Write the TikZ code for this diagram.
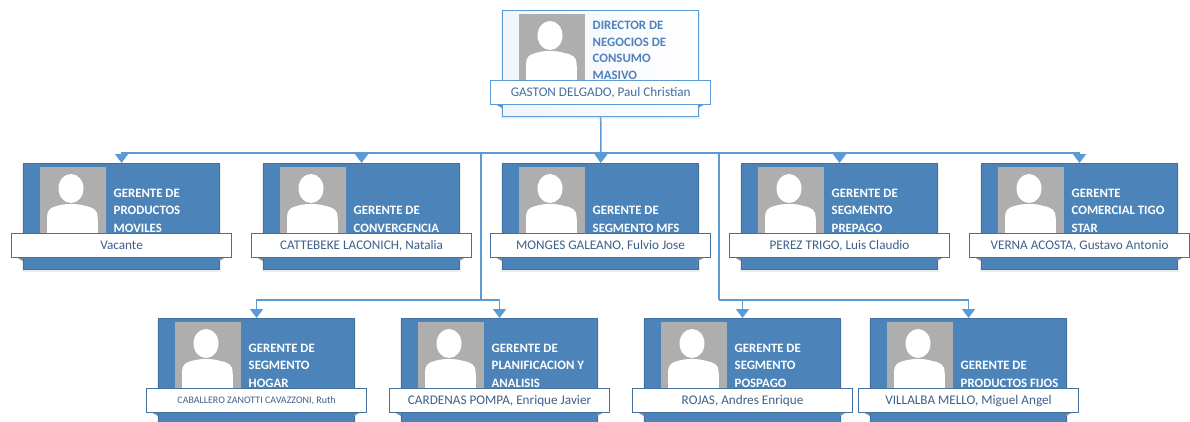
\documentclass[tikz,border=0pt]{standalone}
\usepackage{fontspec}
\setmainfont{Carlito}
\usetikzlibrary{arrows.meta}
\definecolor{linkc}{HTML}{5B9BD5}
\definecolor{cardfill}{HTML}{4C84BA}
\definecolor{cardedge}{HTML}{41719C}
\definecolor{photoc}{HTML}{AEAEAE}
\definecolor{persontxt}{HTML}{3E5F8A}
\definecolor{toptxt}{HTML}{4F81BD}
\definecolor{foldc}{HTML}{7C8A98}
\definecolor{paleblue}{HTML}{F0F5FC}
\tikzset{
  x=1pt,y=-1pt,
  cardbox/.style={rectangle,draw=cardedge,line width=1.1pt,fill=cardfill,minimum width=196pt,minimum height=106pt,inner sep=0pt,anchor=north west},
  topbox/.style={cardbox,draw=linkc,line width=1.4pt,left color=paleblue,right color=white},
  ribbon/.style={rectangle,draw=cardedge,line width=1.1pt,fill=white,minimum width=220pt,minimum height=24pt,inner sep=0pt,anchor=north west,text=persontxt,font=\fontsize{13.2}{14}\selectfont},
  topribbon/.style={ribbon,draw=linkc,line width=1.4pt,text=toptxt!85!black},
  smallname/.style={font=\fontsize{10}{11}\selectfont},
  titletxt/.style={anchor=south west,inner sep=0pt,align=left,text=white,font=\fontsize{12.8}{17.5}\selectfont\bfseries},
  toptitle/.style={titletxt,text=toptxt,font=\fontsize{12.8}{16.5}\selectfont\bfseries},
  link/.style={draw=linkc,line width=1.5pt},
  linkarrow/.style={link,-{Triangle[length=9pt,width=13pt]}},
  softshadow/.style={fill=black,opacity=0.07}
}
% #1 name, #2 x, #3 y, #4 box style, #5 ribbon style, #6 title style, #7 title, #8 person
\newcommand\orgcard[8]{
  \begin{scope}[shift={(#2,#3)}]
    \fill[softshadow] (-1,2) rectangle (198,109);
    \node[#4] (#1) at (0,0) {};
    \fill[foldc] (-7,94) -- (0,94) -- (0,98) -- cycle;
    \fill[foldc] (203,94) -- (196,94) -- (196,98) -- cycle;
    \fill[photoc] (16.5,4) rectangle (83,70);
    \begin{scope}
      \clip (16.5,4) rectangle (83,70);
      \fill[white] (48,25.5) ellipse [x radius=12.5,y radius=14.5];
      \fill[white] (24,70) -- (24,54) .. controls (24,47) and (27.5,44.5) .. (33.5,43)
        .. controls (38.5,41.5) and (42.5,41) .. (48,41) .. controls (53.5,41) and (57.5,41.5) .. (62.5,43)
        .. controls (70.5,44.5) and (74.5,47) .. (74.7,54) -- (75,70) -- cycle;
    \end{scope}
    \node[#6] (#1-title) at (90.5,69.5) {#7};
    \node[#5] (#1-name) at (-12,70) {#8};
  \end{scope}
}
\begin{document}
\begin{tikzpicture}
\useasboundingbox (0,0) rectangle (1190,421);
\begin{scope}
\clip (0,0) rectangle (1190,421);
\orgcard{dir}{502}{10}{topbox}{topribbon}{toptitle}{DIRECTOR DE\\NEGOCIOS DE\\CONSUMO\\MASIVO}{GASTON DELGADO, Paul Christian}
\orgcard{mov}{23}{163}{cardbox}{ribbon}{titletxt}{GERENTE DE\\PRODUCTOS\\MOVILES}{Vacante}
\orgcard{con}{263}{163}{cardbox}{ribbon}{titletxt}{GERENTE DE\\CONVERGENCIA}{CATTEBEKE LACONICH, Natalia}
\orgcard{mfs}{502}{163}{cardbox}{ribbon}{titletxt}{GERENTE DE\\SEGMENTO MFS}{MONGES GALEANO, Fulvio Jose}
\orgcard{pre}{741}{163}{cardbox}{ribbon}{titletxt}{GERENTE DE\\SEGMENTO\\PREPAGO}{PEREZ TRIGO, Luis Claudio}
\orgcard{tig}{981}{163}{cardbox}{ribbon}{titletxt}{GERENTE\\COMERCIAL TIGO\\STAR}{VERNA ACOSTA, Gustavo Antonio}
\orgcard{hog}{158}{318}{cardbox}{ribbon,smallname}{titletxt}{GERENTE DE\\SEGMENTO\\HOGAR}{CABALLERO ZANOTTI CAVAZZONI, Ruth}
\orgcard{pla}{401}{318}{cardbox}{ribbon}{titletxt}{GERENTE DE\\PLANIFICACION Y\\ANALISIS}{CARDENAS POMPA, Enrique Javier}
\orgcard{pos}{644}{318}{cardbox}{ribbon}{titletxt}{GERENTE DE\\SEGMENTO\\POSPAGO}{ROJAS, Andres Enrique}
\orgcard{fij}{870}{318}{cardbox}{ribbon}{titletxt}{GERENTE DE\\PRODUCTOS FIJOS}{VILLALBA MELLO, Miguel Angel}
\end{scope}
\coordinate (busA) at (601,153);
\coordinate (busL) at (481,153);
\coordinate (busR) at (719,153);
\coordinate (forkL) at (481,300);
\coordinate (forkR) at (719,300);
\draw[link] (dir.south) -- (busA);
\draw[linkarrow] (busA) -- (mfs.north);
\draw[linkarrow] (busA) -| (mov.north);
\draw[linkarrow] (busA) -| (con.north);
\draw[linkarrow] (busA) -| (pre.north);
\draw[linkarrow] (busA) -| (tig.north);
\draw[link] (busL) -- (forkL);
\draw[link] (busR) -- (forkR);
\draw[linkarrow] (forkL) -| (hog.north);
\draw[linkarrow] (forkL) -| (pla.north);
\draw[linkarrow] (forkR) -| (pos.north);
\draw[linkarrow] (forkR) -| (fij.north);
\end{tikzpicture}
\end{document}
